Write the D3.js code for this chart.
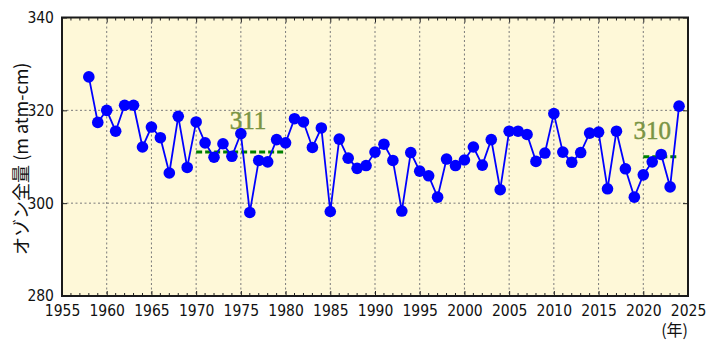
<!DOCTYPE html>
<html>
<head>
<meta charset="utf-8">
<script src="https://cdn.jsdelivr.net/npm/d3@7"></script>
<style>
  html, body { margin: 0; padding: 0; background: #ffffff; }
  svg { display: block; }
  .tick text { font-family: "DejaVu Sans Condensed", "Liberation Sans", sans-serif; }
</style>
</head>
<body>
<svg id="chart" width="709" height="344"></svg>
<script>
// Annual mean total ozone (m atm-cm)
const years = d3.range(1958, 2025);
const ozone = [
  327.2, 317.4, 320.0, 315.5, 321.1, 321.1, 312.1, 316.4, 314.1, 306.5,
  318.7, 307.7, 317.5, 313.0, 309.9, 312.8, 310.1, 315.0, 298.0, 309.2,
  308.9, 313.7, 313.0, 318.2, 317.5, 312.0, 316.2, 298.2, 313.8, 309.7,
  307.5, 308.1, 311.0, 312.7, 309.2, 298.3, 310.9, 306.9, 305.9, 301.3,
  309.5, 308.1, 309.3, 312.1, 308.2, 313.7, 302.9, 315.5, 315.5, 314.8,
  309.0, 310.8, 319.3, 311.0, 308.8, 310.9, 315.1, 315.3, 303.1, 315.5,
  307.4, 301.3, 306.1, 308.9, 310.5, 303.5, 320.9
];

// Period means drawn as dashed reference lines
const periodStart = [1970, 2020];
const periodEnd = [1980, 2024];
const periodMean = [311, 310];
// label anchor year for each period mean
const labelYear = [1975.8, 2021.0];

const xTicks = d3.range(1955, 2026, 5);
const yTicks = [280, 300, 320, 340];

const svg = d3.select("#chart");
const margin = { left: 62, right: 21, top: 17.5, bottom: 48 };
const W = 709, H = 344;
const x = d3.scaleLinear().domain([1955, 2025]).range([margin.left, W - margin.right]);
const y = d3.scaleLinear().domain([280, 340]).range([H - margin.bottom, margin.top]);

// plot background
svg.append("rect")
  .attr("x", x(1955)).attr("y", y(340))
  .attr("width", x(2025) - x(1955)).attr("height", y(280) - y(340))
  .attr("fill", "#fef8d8");

// dotted grid
const grid = svg.append("g").attr("stroke", "#7a7a7a").attr("stroke-width", 1)
  .attr("stroke-dasharray", "2,2.5");
grid.selectAll("line.v").data(xTicks.filter(d => d > 1955 && d < 2025)).join("line")
  .attr("x1", d => x(d)).attr("x2", d => x(d))
  .attr("y1", y(340)).attr("y2", y(280));
grid.selectAll("line.h").data(yTicks.filter(d => d > 280 && d < 340)).join("line")
  .attr("x1", x(1955)).attr("x2", x(2025))
  .attr("y1", d => y(d)).attr("y2", d => y(d));

// axes: inward ticks, minor ticks every year on top and bottom
const minorYears = d3.range(1955, 2026).filter(d => d % 5 !== 0);
function styleAxis(g) {
  g.select(".domain").remove();
  g.selectAll(".tick line").attr("stroke", "#222").attr("stroke-width", 1);
}
const axisB = svg.append("g").attr("transform", `translate(0,${y(280)})`)
  .call(d3.axisBottom(x).tickValues(xTicks).tickFormat(d3.format("d")).tickSizeInner(-5).tickPadding(10));
styleAxis(axisB);
axisB.selectAll(".tick text").attr("font-size", 15.5).attr("fill", "#111").attr("dy", "0.62em");
axisB.append("g").selectAll("line").data(minorYears).join("line")
  .attr("x1", d => x(d)).attr("x2", d => x(d)).attr("y1", 0).attr("y2", -3)
  .attr("stroke", "#222");

const axisT = svg.append("g").attr("transform", `translate(0,${y(340)})`)
  .call(d3.axisTop(x).tickValues(xTicks).tickFormat("").tickSizeInner(-5));
styleAxis(axisT);
axisT.append("g").selectAll("line").data(minorYears).join("line")
  .attr("x1", d => x(d)).attr("x2", d => x(d)).attr("y1", 0).attr("y2", 3)
  .attr("stroke", "#222");

const axisL = svg.append("g").attr("transform", `translate(${x(1955)},0)`)
  .call(d3.axisLeft(y).tickValues(yTicks).tickFormat(d3.format("d")).tickSizeInner(-5).tickPadding(8));
styleAxis(axisL);
axisL.selectAll(".tick text").attr("font-size", 15.5).attr("fill", "#111");

const axisR = svg.append("g").attr("transform", `translate(${x(2025)},0)`)
  .call(d3.axisRight(y).tickValues(yTicks).tickFormat("").tickSizeInner(-5));
styleAxis(axisR);

// frame
svg.append("rect")
  .attr("x", x(1955)).attr("y", y(340))
  .attr("width", x(2025) - x(1955)).attr("height", y(280) - y(340))
  .attr("fill", "none").attr("stroke", "#1a1a1a").attr("stroke-width", 2);

// period mean lines and labels
const periods = periodMean.map((m, i) => ({ s: periodStart[i], e: periodEnd[i], m, ly: labelYear[i] }));
svg.append("g").selectAll("line").data(periods).join("line")
  .attr("x1", d => x(d.s)).attr("x2", d => x(d.e))
  .attr("y1", d => y(d.m)).attr("y2", d => y(d.m))
  .attr("stroke", "#008000").attr("stroke-width", 3).attr("stroke-dasharray", "6,3");

// series line and markers
const line = d3.line().x((d, i) => x(years[i])).y(d => y(d));
svg.append("path").datum(ozone)
  .attr("d", line).attr("fill", "none")
  .attr("stroke", "#0000ff").attr("stroke-width", 1.8);
svg.append("g").selectAll("circle").data(ozone).join("circle")
  .attr("cx", (d, i) => x(years[i])).attr("cy", d => y(d)).attr("r", 5.8)
  .attr("fill", "#0000ff");

svg.append("g").selectAll("text").data(periods).join("text")
  .attr("x", d => x(d.ly))
  .attr("y", d => y(d.m) - (d.s === 1970 ? 23 : 18))
  .attr("text-anchor", "middle")
  .attr("font-family", "'Liberation Serif', 'DejaVu Serif', serif")
  .attr("font-size", 25)
  .attr("fill", "#7a9444")
  .attr("stroke", "#7a9444").attr("stroke-width", 0.5)
  .text(d => d.m);

// axis titles
svg.append("text")
  .attr("transform", `translate(28,${(y(280) + y(340)) / 2 + 2}) rotate(-90)`)
  .attr("text-anchor", "middle")
  .attr("font-family", "'Noto Sans CJK JP', sans-serif")
  .attr("font-size", 18).attr("fill", "#111")
  .text("オゾン全量 (m atm-cm)");

svg.append("text")
  .attr("x", 688).attr("y", 336)
  .attr("text-anchor", "end")
  .attr("font-family", "'Noto Sans CJK JP', sans-serif")
  .attr("font-size", 16).attr("fill", "#111")
  .text("(年)");
</script>
</body>
</html>
